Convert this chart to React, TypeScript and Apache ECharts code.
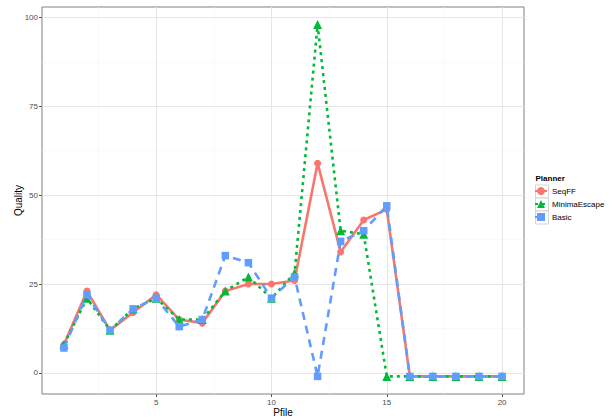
import React, { useEffect, useRef } from "react";
import * as echarts from "echarts";

const pfile = [1, 2, 3, 4, 5, 6, 7, 8, 9, 10, 11, 12, 13, 14, 15, 16, 17, 18, 19, 20];
const seqFF = [8, 23, 12, 17, 22, 15, 14, 23, 25, 25, 26, 59, 34, 43, 46, -1, -1, -1, -1, -1];
const minimaEscape = [8, 21, 12, 18, 21, 15, 15, 23, 27, 21, 28, 98, 40, 39, -1, -1, -1, -1, -1, -1];
const basic = [7, 22, 12, 18, 21, 13, 15, 33, 31, 21, 27, -1, 37, 40, 47, -1, -1, -1, -1, -1];
const xTicks = [5, 10, 15, 20];
const yTicks = [0, 25, 50, 75, 100];
const xMinor = [2.5, 7.5, 12.5, 17.5];
const yMinor = [12.5, 37.5, 62.5, 87.5];
const seriesNames = ["SeqFF", "MinimaEscape", "Basic"];

const FONT = "Liberation Sans, Arial, sans-serif";

export default function App() {
  const ref = useRef<HTMLDivElement>(null);
  useEffect(() => {
    if (!ref.current) return;
    const chart = echarts.init(ref.current, undefined, { renderer: "svg" });
    const toPts = (arr: number[]) => arr.map((v, i) => [pfile[i], v]);
    const gridLines = [
      ...xMinor.map((v) => ({ xAxis: v, lineStyle: { color: "#F7F7F7", width: 0.6, type: "solid" } })),
      ...yMinor.map((v) => ({ yAxis: v, lineStyle: { color: "#F7F7F7", width: 0.6, type: "solid" } })),
      ...xTicks.map((v) => ({ xAxis: v, lineStyle: { color: "#E6E6E6", width: 1, type: "solid" } })),
      ...yTicks.map((v) => ({ yAxis: v, lineStyle: { color: "#E6E6E6", width: 1, type: "solid" } })),
    ];
    chart.setOption({
      animation: false,
      backgroundColor: "#ffffff",
      textStyle: { fontFamily: FONT },
      grid: {
        left: 42,
        right: 89,
        top: 7,
        bottom: 24,
        containLabel: false,
        outerBoundsMode: "none",
        show: true,
        borderColor: "#808080",
        borderWidth: 1,
        backgroundColor: "#ffffff",
      },
      xAxis: {
        type: "value",
        min: 0.05,
        max: 20.95,
        name: "Pfile",
        nameLocation: "middle",
        nameGap: 13,
        nameMoveOverlap: false,
        nameTextStyle: { fontSize: 10, color: "#000", fontFamily: FONT },
        axisLine: { show: false, onZero: false },
        axisTick: { show: true, length: 3, customValues: xTicks, lineStyle: { color: "#555" } },
        axisLabel: { customValues: xTicks, fontSize: 8, color: "#4d4d4d", margin: 4, fontFamily: FONT },
        splitLine: { show: false },
      },
      yAxis: {
        type: "value",
        min: -5.95,
        max: 102.95,
        name: "Quality",
        nameLocation: "middle",
        nameGap: 19,
        nameMoveOverlap: false,
        nameRotate: 90,
        nameTextStyle: { fontSize: 10, color: "#000", fontFamily: FONT },
        axisLine: { show: false, onZero: false },
        axisTick: { show: true, length: 3, customValues: yTicks, lineStyle: { color: "#555" } },
        axisLabel: { customValues: yTicks, fontSize: 8, color: "#4d4d4d", margin: 4, fontFamily: FONT },
        splitLine: { show: false },
      },
      legend: {
        data: seriesNames,
        orient: "vertical",
        left: 534,
        top: 186,
        itemWidth: 12,
        itemHeight: 10,
        itemGap: 3,
        padding: 0,
        textStyle: { fontSize: 8, color: "#000", lineHeight: 10, fontFamily: FONT },
      },
      graphic: [
        {
          type: "text",
          left: 535.5,
          top: 174,
          style: { text: "Planner", font: `bold 8px ${FONT}`, fill: "#000" },
        },
        ...[0, 1, 2].map((i) => ({
          type: "rect",
          shape: { x: 535.5, y: 185 + i * 13, width: 13, height: 13 },
          style: { fill: "#fff", stroke: "#cccccc", lineWidth: 0.8 },
          z: -1,
        })),
      ],
      series: [
        {
          type: "line",
          name: "__grid",
          data: [],
          silent: true,
          z: 0,
          markLine: {
            silent: true,
            symbol: "none",
            z: 0,
            label: { show: false },
            emphasis: { disabled: true },
            data: gridLines,
          },
        },
        {
          type: "line",
          name: "SeqFF",
          data: toPts(seqFF),
          symbol: "circle",
          symbolSize: 7,
          lineStyle: { color: "#F8766D", width: 2.6, type: "solid" },
          itemStyle: { color: "#F8766D" },
          color: "#F8766D",
          z: 2,
        },
        {
          type: "line",
          name: "MinimaEscape",
          data: toPts(minimaEscape),
          symbol: "triangle",
          symbolSize: 9,
          lineStyle: { color: "#00BA38", width: 2.6, type: [3, 4] },
          itemStyle: { color: "#00BA38" },
          color: "#00BA38",
          z: 3,
        },
        {
          type: "line",
          name: "Basic",
          data: toPts(basic),
          symbol: "rect",
          symbolSize: 7.5,
          lineStyle: { color: "#619CFF", width: 2.6, type: [8, 6] },
          itemStyle: { color: "#619CFF" },
          color: "#619CFF",
          z: 4,
        },
      ],
    });
    return () => chart.dispose();
  }, []);
  return (
    <div
      ref={ref}
      style={{ position: "absolute", left: 0, top: 0, width: 613, height: 418 }}
    />
  );
}
